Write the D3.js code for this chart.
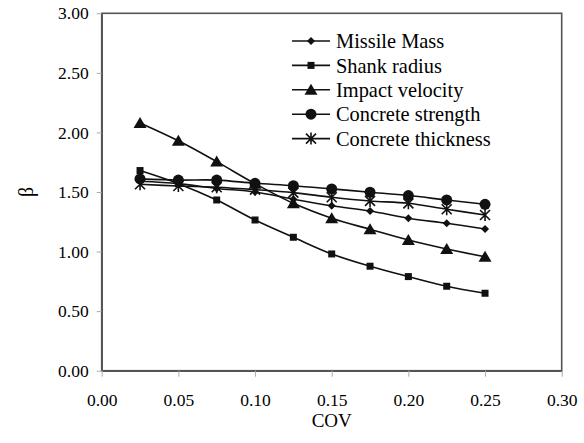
<!DOCTYPE html>
<html>
<head>
<meta charset="utf-8">
<script src="https://cdn.jsdelivr.net/npm/d3@7"></script>
<style>
  html, body { margin: 0; padding: 0; background: #fff; }
  svg { display: block; }
  text { font-family: "Liberation Serif", "Times New Roman", serif; fill: #000; }
</style>
</head>
<body>
<svg id="chart" width="584" height="443"></svg>
<script>
const cov = [0.025, 0.05, 0.075, 0.1, 0.125, 0.15, 0.175, 0.2, 0.225, 0.25];
const missileMass = [1.59, 1.57, 1.53, 1.50, 1.44, 1.385, 1.34, 1.28, 1.237, 1.19];
const shankRadius = [1.68, 1.57, 1.433, 1.265, 1.12, 0.98, 0.877, 0.79, 0.709, 0.65];
const impactVelocity = [2.08, 1.93, 1.755, 1.57, 1.405, 1.28, 1.187, 1.097, 1.022, 0.957];
const concreteStrength = [1.61, 1.60, 1.60, 1.573, 1.553, 1.526, 1.498, 1.47, 1.433, 1.397];
const concreteThickness = [1.565, 1.55, 1.54, 1.52, 1.495, 1.456, 1.425, 1.405, 1.355, 1.307];
const seriesNames = ["Missile Mass", "Shank radius", "Impact velocity", "Concrete strength", "Concrete thickness"];
const markerTypes = ["diamond", "square", "triangle", "circle", "asterisk"];
const xTicks = [0, 0.05, 0.10, 0.15, 0.20, 0.25, 0.30];
const yTicks = [0, 0.5, 1.0, 1.5, 2.0, 2.5, 3.0];
const xTitle = "COV";
const yTitle = "β";

const seriesValues = [missileMass, shankRadius, impactVelocity, concreteStrength, concreteThickness];
const series = seriesNames.map((name, i) => ({
  name, marker: markerTypes[i],
  points: cov.map((c, j) => ({ x: c, y: seriesValues[i][j] }))
}));

const svg = d3.select("#chart");
const L = 101.7, R = 561.7, T = 13.3, B = 370.7;
const x = d3.scaleLinear().domain([0, 0.3]).range([L, R]);
const y = d3.scaleLinear().domain([0, 3]).range([B, T]);
const axisColor = "#555";

// plot box
svg.append("rect").attr("x", L).attr("y", T).attr("width", R - L).attr("height", B - T)
  .attr("fill", "none").attr("stroke", axisColor).attr("stroke-width", 1.6);

// y axis
const yAxis = svg.append("g").attr("transform", `translate(${L},0)`)
  .call(d3.axisLeft(y).tickValues(yTicks).tickFormat(d3.format(".2f")).tickSize(5).tickPadding(8).tickSizeOuter(0));
yAxis.attr("font-family", "Liberation Serif");
yAxis.select(".domain").attr("stroke", axisColor).attr("stroke-width", 1.6);
yAxis.selectAll(".tick line").attr("stroke", "#aaa");
yAxis.selectAll(".tick text").attr("font-size", "17.5px").attr("font-family", "Liberation Serif").attr("fill", "#111");

// x axis
const xAxis = svg.append("g").attr("transform", `translate(0,${B})`)
  .call(d3.axisBottom(x).tickValues(xTicks).tickFormat(d3.format(".2f")).tickSize(6).tickPadding(17).tickSizeOuter(0));
xAxis.attr("font-family", "Liberation Serif");
xAxis.select(".domain").attr("stroke", axisColor).attr("stroke-width", 1.6);
xAxis.selectAll(".tick line").attr("stroke", "#aaa");
xAxis.selectAll(".tick text").attr("font-size", "17.5px").attr("font-family", "Liberation Serif").attr("fill", "#111");

// titles
svg.append("text").attr("x", (L + R) / 2).attr("y", 427).attr("text-anchor", "middle")
  .attr("font-size", "19px").attr("fill", "#111").text(xTitle);
svg.append("text").attr("transform", `translate(33,${(T + B) / 2}) rotate(-90)`)
  .attr("text-anchor", "middle").attr("font-size", "20px").attr("fill", "#111").text(yTitle);

// lines
const line = d3.line().x(d => x(d.x)).y(d => y(d.y)).curve(d3.curveCatmullRom.alpha(0.5));
const lineColor = "#111";

function drawMarker(g, type, cx, cy) {
  if (type === "diamond") {
    g.append("path").attr("d", `M${cx},${cy - 4}L${cx + 4},${cy}L${cx},${cy + 4}L${cx - 4},${cy}Z`).attr("fill", lineColor);
  } else if (type === "square") {
    g.append("rect").attr("x", cx - 3.5).attr("y", cy - 3.5).attr("width", 7).attr("height", 7).attr("fill", lineColor);
  } else if (type === "triangle") {
    g.append("path").attr("d", `M${cx},${cy - 6}L${cx + 6.5},${cy + 5}L${cx - 6.5},${cy + 5}Z`).attr("fill", lineColor);
  } else if (type === "circle") {
    g.append("circle").attr("cx", cx).attr("cy", cy).attr("r", 5.5).attr("fill", lineColor);
  } else if (type === "asterisk") {
    g.append("path").attr("d",
      `M${cx - 5},${cy - 5}L${cx + 5},${cy + 5}M${cx + 5},${cy - 5}L${cx - 5},${cy + 5}M${cx},${cy - 6}L${cx},${cy + 6}`)
      .attr("stroke", lineColor).attr("stroke-width", 1.6).attr("fill", "none");
  }
}

const plot = svg.append("g");
series.forEach(s => {
  plot.append("path").datum(s.points).attr("d", line)
    .attr("fill", "none").attr("stroke", lineColor).attr("stroke-width", 1.6);
});
series.forEach(s => {
  const g = plot.append("g");
  s.points.forEach(p => drawMarker(g, s.marker, x(p.x), y(p.y)));
});

// legend
const legend = svg.append("g");
const legendY0 = 41, legendDy = 24.4;
series.forEach((s, i) => {
  const ly = legendY0 + i * legendDy;
  legend.append("line").attr("x1", 292).attr("x2", 330).attr("y1", ly).attr("y2", ly)
    .attr("stroke", lineColor).attr("stroke-width", 1.6);
  drawMarker(legend, s.marker, 311, ly);
  legend.append("text").attr("x", 336).attr("y", ly).attr("dy", "0.35em")
    .attr("font-size", "20.4px").attr("fill", "#111").text(s.name);
});
</script>
</body>
</html>
